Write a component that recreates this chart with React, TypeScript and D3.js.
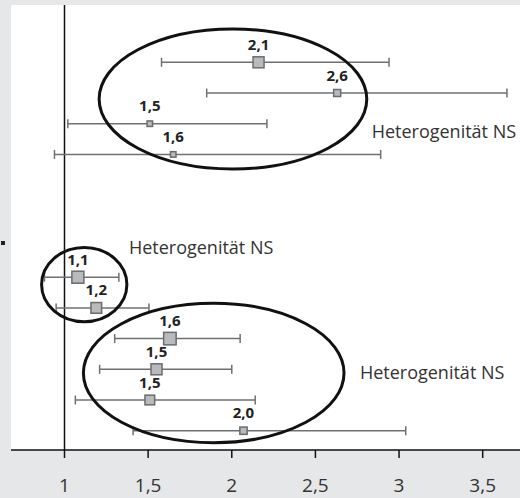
import React, { useEffect, useRef } from 'react';
import * as d3 from 'd3';

// rows from top to bottom (slot = row position, gaps left empty)
const slots = [0, 1, 2, 3, 7, 8, 9, 10, 11, 12];
const labels = ['2,1', '2,6', '1,5', '1,6', '1,1', '1,2', '1,6', '1,5', '1,5', '2,0'];
const estimates = [2.16, 2.63, 1.51, 1.65, 1.08, 1.19, 1.63, 1.55, 1.51, 2.07];
const lower = [1.58, 1.85, 1.02, 0.94, 0.88, 0.95, 1.3, 1.21, 1.065, 1.41];
const upper = [2.94, 3.645, 2.21, 2.89, 1.325, 1.505, 2.05, 2.0, 2.14, 3.04];
const weights = [11, 7, 5.5, 5.5, 12, 10.7, 12.5, 11, 9.7, 7.3];

const xTicks = [1, 1.5, 2, 2.5, 3, 3.5];

// group ellipses in data units: cx, cy (slot), rx, ry (slots)
const groups = [
  { cx: 2.007, cy: 1.195, rx: 0.8, ry: 2.28 },
  { cx: 1.118, cy: 7.24, rx: 0.255, ry: 1.21 },
  { cx: 1.892, cy: 10.12, rx: 0.779, ry: 2.27 },
];
const groupText = [
  { text: 'Heterogenität NS', x: 2.836, y: 2.48 },
  { text: 'Heterogenität NS', x: 1.385, y: 6.24 },
  { text: 'Heterogenität NS', x: 2.766, y: 10.3 },
];

const W = 520;
const H = 498;
const font = '"Open Sans", "DejaVu Sans", sans-serif';

const App = () => {
  const svgRef = useRef<SVGSVGElement>(null);

  useEffect(() => {
    const svg = d3.select(svgRef.current);
    svg.selectAll('*').remove();

    const x = d3.scaleLinear().domain([1, 3.5]).range([64.5, 482.7]);
    const y = d3.scaleLinear().domain([0, 12]).range([62.3, 430.7]);
    const unitX = x(2) - x(1);
    const unitY = y(1) - y(0);

    // backgrounds
    svg.append('rect').attr('width', W).attr('height', H).attr('fill', '#e6e7e8');
    svg.append('rect').attr('x', 11).attr('y', 5).attr('width', W - 11).attr('height', 445).attr('fill', '#ffffff');
    svg.append('rect').attr('x', 1).attr('y', 241).attr('width', 4).attr('height', 4).attr('fill', '#222');

    // axes
    svg.append('line')
      .attr('x1', x(1)).attr('x2', x(1))
      .attr('y1', 5).attr('y2', 450)
      .attr('stroke', '#111').attr('stroke-width', 1.5);

    const axis = svg.append('g').attr('transform', 'translate(0,450)');
    axis.append('line').attr('x1', 11).attr('x2', W).attr('stroke', '#111').attr('stroke-width', 1.5);
    axis.selectAll('.tick')
      .data(xTicks)
      .enter().append('line')
      .attr('x1', d => x(d)).attr('x2', d => x(d))
      .attr('y1', 0).attr('y2', 8)
      .attr('stroke', '#111').attr('stroke-width', 1.5);
    axis.selectAll('.tlabel')
      .data(xTicks)
      .enter().append('text')
      .attr('x', d => x(d))
      .attr('y', 42)
      .attr('text-anchor', 'middle')
      .attr('font-family', font)
      .attr('font-size', '19px')
      .attr('fill', '#333')
      .text(d => String(d).replace('.', ','));

    // whiskers
    const rows = slots.map((s, i) => ({ s, i }));
    const g = svg.append('g');
    g.selectAll('.ci')
      .data(rows)
      .enter().append('line')
      .attr('x1', d => x(lower[d.i])).attr('x2', d => x(upper[d.i]))
      .attr('y1', d => y(d.s)).attr('y2', d => y(d.s))
      .attr('stroke', '#6f7072').attr('stroke-width', 1.5);
    [lower, upper].forEach(arr => {
      g.selectAll(null)
        .data(rows)
        .enter().append('line')
        .attr('x1', d => x(arr[d.i])).attr('x2', d => x(arr[d.i]))
        .attr('y1', d => y(d.s) - 4.5).attr('y2', d => y(d.s) + 4.5)
        .attr('stroke', '#6f7072').attr('stroke-width', 1.5);
    });

    // squares
    g.selectAll('.sq')
      .data(rows)
      .enter().append('rect')
      .attr('x', d => x(estimates[d.i]) - weights[d.i] / 2)
      .attr('y', d => y(d.s) - weights[d.i] / 2)
      .attr('width', d => weights[d.i])
      .attr('height', d => weights[d.i])
      .attr('fill', '#b9babc')
      .attr('stroke', '#6b6c6e')
      .attr('stroke-width', 1.5);

    // value labels
    g.selectAll('.val')
      .data(rows)
      .enter().append('text')
      .attr('x', d => x(estimates[d.i]))
      .attr('y', d => y(d.s) - 12.5)
      .attr('text-anchor', 'middle')
      .attr('font-family', font)
      .attr('font-weight', 'bold')
      .attr('font-size', '15px')
      .attr('fill', '#222')
      .text(d => labels[d.i]);

    // group ellipses
    svg.selectAll('.grp')
      .data(groups)
      .enter().append('ellipse')
      .attr('cx', d => x(d.cx))
      .attr('cy', d => y(d.cy))
      .attr('rx', d => d.rx * unitX)
      .attr('ry', d => d.ry * unitY)
      .attr('fill', 'none')
      .attr('stroke', '#111')
      .attr('stroke-width', 3);

    svg.selectAll('.gtext')
      .data(groupText)
      .enter().append('text')
      .attr('x', d => x(d.x))
      .attr('y', d => y(d.y))
      .attr('font-family', font)
      .attr('font-size', '18px')
      .attr('fill', '#333')
      .text(d => d.text);
  }, []);

  return <svg ref={svgRef} width={W} height={H} style={{ display: 'block', position: 'absolute', left: 0, top: 0 }}></svg>;
};

export default App;
